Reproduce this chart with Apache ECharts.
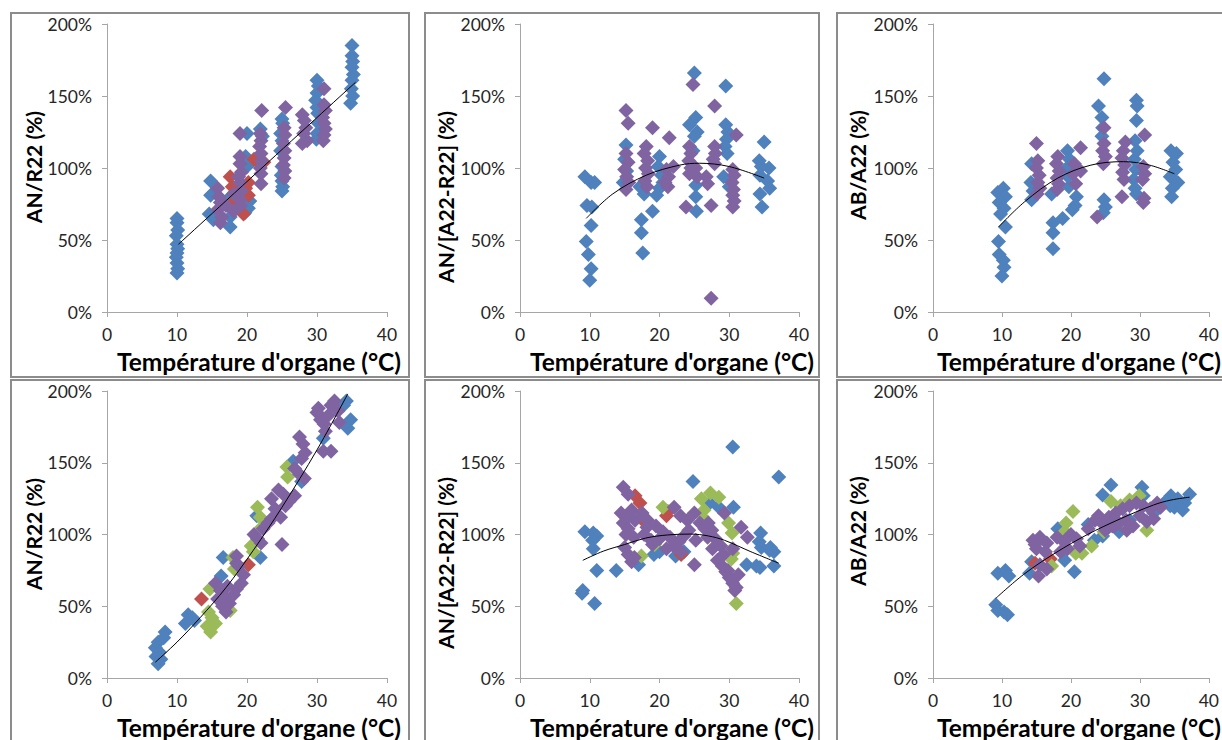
<!DOCTYPE html>
<html>
<head>
<meta charset="utf-8">
<script src="https://cdn.jsdelivr.net/npm/echarts@6/dist/echarts.min.js"></script>
<style>
html,body{margin:0;padding:0;background:#fff;}
#chart{width:1222px;height:740px;}
</style>
</head>
<body>
<div id="chart"></div>
<script>
// ---------- DATA (°C, %) ----------
const xTicks = [0, 10, 20, 30, 40];
const yTicks = [0, 50, 100, 150, 200];
const xTitle = "Température d'organe (°C)";
const yTitles = ["AN/R22 (%)", "AN/[A22-R22] (%)", "AB/A22 (%)", "AN/R22 (%)", "AN/[A22-R22] (%)", "AB/A22 (%)"];

// Panel 1: AN/R22 (top-left)
const p1Blue = [[10,65],[10,62],[10.1,57],[9.9,53],[10,47],[10.1,44],[10,41],[9.9,38],[10,34],[10.1,30],[10,27],
  [14.8,91],[14.8,81],[14.6,68],[15.2,64],[17.6,66],[17.6,59],[17.2,78],[18.2,83],
  [20,124],[19.8,108],[20,101],[20.4,77],[20.2,72],[19.7,69],
  [21.9,127],[22.2,122],
  [25,134],[25.1,131],[24.8,124],[25,119],[24.8,112],[25,101],[24.9,95],[25,91],[25.1,87],[25,84],
  [30,161],[30.2,157],[30,152],[29.8,147],[30,142],[30.1,138],[30.2,131],[30,124],[29.9,120],
  [35,185],[35,178],[35.1,174],[35,170],[35.2,165],[35,161],[34.9,155],[35.1,150],[34.8,145]];
const p1Red = [[17.6,94],[17.9,87],[18.1,77],[18.3,73],[19.5,68],[20.2,81],[20.2,90],[21,106],[21.8,103],[22.4,104],[19.8,86]];
const p1Purple = [[15.8,86],[16,80],[16.2,76],[15.8,71],[16.4,66],[16.2,62],[17,74],[18.1,82],[18.1,70],
  [19,124],[19,108],[19,103],[19.2,97],[18.8,94],[19,90],[19.2,84],[19,78],[19.1,74],
  [22.1,140],[21.9,124],[22,119],[21.8,115],[22,110],[22.1,105],[21.9,100],[22,96],[22,89],
  [25.5,142],[25.3,128],[25.4,123],[25.2,117],[25.4,112],[25.3,107],[25.2,102],[25.4,98],[25.3,93],
  [27.9,137],[28.2,133],[28.4,128],[28.1,124],[28.6,119],[27.9,117],
  [31,155],[31,144],[31.2,140],[30.8,135],[31,131],[31.2,127],[31,123],[30.9,119]];
const trend1 = [[10.2,47],[35.5,159.5]];

// Panel 2: AN/[A22-R22] (top-middle)
const p2Blue = [[9.3,94],[10.2,90],[10.7,90],[9.6,74],[10.3,73],[10.2,60],[9.5,49],[9.8,40],[10.2,30],[10,22],
  [15.2,116],[15,106],[15.3,98],[14.8,90],
  [17.4,64],[17.4,55],[17.6,41],[17.2,87],[17.8,82],
  [19,70],[20,108],[19.8,101],[20.3,95],[20.5,90],[20,86],[19.6,81],
  [25,166],[25.2,135],[24.3,130],[25.4,125],[25,122],[24.8,112],[25.2,88],[25.2,80],[25.3,70],
  [29.5,157],[29.5,130],[29.8,125],[29.6,120],[29.4,115],[29.7,110],[29.2,94],[30,87],
  [35,118],[34.3,105],[34.6,101],[35.7,100],[34.4,95],[35.5,91],[35.8,86],[34.4,82],[34.7,73]];
const p2Purple = [[24.8,158],[27.9,143],[15.2,140],[15.5,131],[19,128],[21.4,121],[31,123],
  [15.2,110],[15.5,104],[15,99],[15.3,94],[15.6,90],[15.2,85],
  [18.1,115],[17.8,110],[18.3,105],[18,100],[18.4,96],[17.9,91],[18.2,87],
  [21,99],[21.3,94],[20.8,90],[21.2,87],[22,101],
  [24.3,115],[24.5,110],[24.2,105],[24.5,100],[24.3,96],[25.2,100],[25.4,94],
  [27.9,115],[28,110],[27.7,106],[27.9,103],[26.7,94],[26.9,89],
  [30.5,99],[30.7,95],[30.4,90],[30.6,85],[30.5,81],[30.7,77],[30.5,73],
  [23.8,73],[27.4,74],[27.4,9.5]];
const trend2 = [[9.5,65],[13.3,82],[18.1,95],[22.9,102],[25.7,103.3],[30,101],[35,93]];

// Panel 3: AB/A22 (top-right)
const p3Blue = [[24.8,162],[29.5,147],[29.6,143],[29.5,133],[24,143],[24.5,135],[24.6,128],[24.5,122],
  [9.4,83],[10.2,86],[10.5,80],[9.6,76],[10.3,72],[9.8,68],[10.5,59],[9.5,49],[9.6,40],[10.2,36],[10.3,31],[10,25],
  [17.4,62],[17.4,55],[17.4,44],[18.8,65],[17.2,82],
  [19.5,112],[19.8,106],[19.4,100],[19.6,94],[19.7,87],[20.8,80],[20.6,74],[20.2,71],
  [24.8,78],[25,73],[24.7,69],
  [29.3,119],[29.6,112],[29.2,106],[29.4,99],[29.1,92],[29.3,86],[29.5,82],
  [34.5,112],[35.3,110],[34.8,104],[35.2,99],[34.4,94],[35.5,90],[34.7,86],[34.6,80],
  [14.3,103],[14.2,90],[14.5,84],[14.3,78]];
const p3Purple = [[15,117],[30.7,123],[21.4,114],[24.8,128],[27.9,118],
  [15.2,105],[15,100],[15.4,95],[15.2,90],[15.5,86],[15.1,82],
  [18.1,108],[17.9,103],[18.3,98],[18,93],[18.2,89],[18,85],
  [20.5,103],[20.3,96],[20.7,89],[21.4,98],
  [24.8,117],[24.6,112],[25,108],[24.7,103],
  [27.6,112],[27.4,107],[27.8,102],[27.5,97],[27.7,92],
  [27.4,80],[30.5,101],[30.7,96],[30.4,92],[30.6,79],[30.5,76],[23.8,66]];
const trend3 = [[9.5,59],[13.3,76.6],[18.1,93],[22.9,102],[27.6,104.4],[31.4,102],[35,96]];

// Panel 4: AN/R22 (bottom-left)
const p4Blue = [[8.3,32],[8.1,28],[7.3,25],[6.9,21],[7.5,18],[7.0,15],[7.7,13],[7.3,10],
  [11.6,44],[12.2,42],[11.2,38],[12.5,40],
  [16.6,84],[16.3,71],[21.9,84],[21.4,113],[26.6,151],[27.8,137],[30.9,167],
  [34.2,193],[34.8,180],[33.8,190],[34.4,174]];
const p4Red = [[13.5,55],[20.2,79]];
const p4Green = [[14.5,46],[15,42],[14.3,36],[15.5,38],[14.8,32],[17.6,47],[14.7,62],[18,84],[18.2,76],[20.9,88],
  [21.5,119],[21.9,112],[22.1,105],[25.7,147],[25.8,140],[20.6,92]];
const p4Purple = [[15.5,66],[16.2,61],[16.8,57],[17.5,52],[15.8,55],[17.2,64],[18.1,58],[16.5,50],[18.5,62],[17,46],
  [18.5,85],[18.8,78],[19.5,72],[19.2,66],[18.5,80],
  [21,100],[21.5,97],[22.3,104],[23,108],[22,94],[23.5,111],[25,93],
  [23.5,125],[24.5,131],[25.2,128],[26,123],[24,118],[25.5,120],[24.8,112],[26.8,127],
  [26.8,146],[27.5,142],[28.2,139],[27.5,168],[28,163],[28.3,157],[27.8,153],
  [30.9,158],[32,158],
  [30,185],[30.5,180],[31,177],[31.6,183],[32,190],[32.5,193],[33,186],[33.2,178],[31.2,172],[30.2,188]];
const trend4 = [[6.9,11],[10,25],[13.3,42],[17,63],[20.9,89],[25,119],[30,159],[34.4,198]];

// Panel 5: AN/[A22-R22] (bottom-middle)
const p5Blue = [[30.5,161],[37.1,140],[24.8,137],
  [9.3,102],[10.5,101],[11,99],[10.4,96],[10.5,90],[11,75],[9,61],[8.9,59],[10.7,52],[13.8,75],
  [27.2,122],[28.5,119],[30.6,119],
  [34.5,101],[34.3,95],[34.6,91],[35.9,91],[35.8,89],[36.4,88],[32.5,79],[33.9,78],[34.4,77],[36.4,78],
  [17,79],[19.2,86],[20,88],[23.5,88],[22.3,85]];
const p5Red = [[16.5,127],[17.2,122],[17.4,111],[21.2,116],[21,113],[23.1,86]];
const p5Green = [[20.5,119],[26,125],[27.3,129],[28.5,126],[26.4,117],[29.9,108],[30.4,101],[17.4,85],[31,52],
  [19.3,93],[30.5,87],[30.3,83],[26.2,112]];
const p5Purple = [[14.8,133],[15.5,128],[14.5,115],[15.2,112],[16,117],[14.8,108],[15.5,104],[16.5,110],[17.5,115],[18.2,105],[17.8,100],[16.3,98],[15.2,100],[18.8,96],
  [15,91],[15.5,86],[16,81],[16.4,84],
  [18.3,110],[19.5,106],[20.5,102],[21.5,98],[19,93],[20,97],[22,92],[21,90],[22.8,95],[23.1,88],
  [22.1,119],[23,113],[24,110],[25,115],[25.8,108],[26.5,104],[24.2,103],[23.5,99],[25.2,96],[26.9,98],[25,79],
  [27,108],[27.5,103],[28,97],[28.8,92],[29.2,86],[27.6,90],[28.3,82],[29,78],[29.5,74],[30,70],[30.5,66],[31,63],[30.8,61],[29.8,75],[31.3,72],
  [29.3,115],[31.7,105],[32.6,98],[30.5,90]];
const trend5 = [[9,82],[12,88.5],[15,93],[18,97.5],[21.2,99.7],[24.5,100.3],[27,99],[29.3,96],[33.1,88],[37.1,80]];

// Panel 6: AB/A22 (bottom-right)
const p6Blue = [[25.8,134.5],[24.6,127.5],[30.3,133],[30.5,127],
  [34.5,127],[35.5,125],[36.5,122],[37.2,128],[35,119],[36.2,117],[34.4,120],[33.5,122],
  [9.4,73],[10.5,75],[11,71],[9.1,51],[9.4,47],[10.8,44],[10.3,46],
  [14.3,81],[14,73],[20.5,74],[18.1,104],[19.1,82],[23.4,96],[24.6,99],[28.5,110],[32,115],[27,102],[22.5,107]];
const p6Red = [[14.8,80],[17,83]];
const p6Green = [[20.3,116],[19.3,108],[19.1,102],[17.2,78],[20.7,87],[21.6,87],[25.8,123],[27.2,120],[29.9,127],[31,103],[24.8,102],[23,92],[28.5,124]];
const p6Purple = [[14.5,96],[15.5,98],[16.5,94],[15,90],[16.3,88],[14.8,93],[15.3,71],[15.5,79],[16.5,76],
  [18,98],[19,95],[20,100],[20.8,97],[19.5,90],[21.3,92],[18.5,88],
  [22.5,104],[23.5,110],[24.5,108],[25.5,112],[26.5,115],[27.5,118],[28.5,120],[29.5,122],[30.5,120],[31.5,118],[32.5,122],
  [24,113],[26,106],[28,110],[30,113],[32,111],[25,103],[27,108],[29,106],[31,109],[33,119],[28.1,103],[26.3,106]];
const trend6 = [[9.1,55.5],[13.1,72],[17.7,87],[22.4,100],[27.2,111],[32,120.6],[34.5,124],[37.2,126]];

// ---------- STYLE / LAYOUT ----------
const COL = {blue:'#4F81BD', red:'#C0504D', green:'#9BBB59', purple:'#8064A2'};
const FONT = 'Lato, "Liberation Sans", sans-serif';
const AXIS_COL = '#a6a6a6';

const panels = [
  {grid:{left:107, top:24, width:280, height:288}, sets:[[p1Blue,'blue'],[p1Red,'red'],[p1Purple,'purple']], trend:trend1, yt:[33.5,167], xt:[259,361], box:[11,13,398,364]},
  {grid:{left:520, top:24, width:279, height:288}, sets:[[p2Blue,'blue'],[p2Purple,'purple']], trend:trend2, yt:[445,197], xt:[672,361], box:[425,13,394,364]},
  {grid:{left:933, top:24, width:280, height:288}, sets:[[p3Blue,'blue'],[p3Purple,'purple']], trend:trend3, yt:[857,165], xt:[1079,361], box:[837,13,400,364]},
  {grid:{left:107, top:391, width:280, height:287}, sets:[[p4Blue,'blue'],[p4Red,'red'],[p4Green,'green'],[p4Purple,'purple']], trend:trend4, yt:[33.5,534], xt:[259,727], box:[11,380,398,380]},
  {grid:{left:520, top:391, width:279, height:287}, sets:[[p5Blue,'blue'],[p5Red,'red'],[p5Green,'green'],[p5Purple,'purple']], trend:trend5, yt:[445,563], xt:[672,727], box:[425,380,394,380]},
  {grid:{left:933, top:391, width:280, height:287}, sets:[[p6Blue,'blue'],[p6Red,'red'],[p6Green,'green'],[p6Purple,'purple']], trend:trend6, yt:[857,531], xt:[1079,727], box:[837,380,400,380]}
];

const grid = [], xAxis = [], yAxis = [], series = [], graphic = [];
panels.forEach((p, i) => {
  grid.push(Object.assign({containLabel:false}, p.grid));
  xAxis.push({
    gridIndex:i, type:'value', min:xTicks[0], max:xTicks[xTicks.length-1], interval:xTicks[1]-xTicks[0],
    axisLine:{show:true, onZero:false, lineStyle:{color:AXIS_COL, width:1}},
    axisTick:{show:true, length:5, lineStyle:{color:AXIS_COL}},
    splitLine:{show:false},
    axisLabel:{fontSize:17.5, color:'#262626', margin:13, fontFamily:FONT}
  });
  yAxis.push({
    gridIndex:i, type:'value', min:yTicks[0], max:yTicks[yTicks.length-1], interval:yTicks[1]-yTicks[0],
    axisLine:{show:true, onZero:false, lineStyle:{color:AXIS_COL, width:1}},
    axisTick:{show:true, length:5, lineStyle:{color:AXIS_COL}},
    splitLine:{show:false},
    axisLabel:{fontSize:17.5, color:'#262626', margin:15, fontFamily:FONT, formatter:'{value}%'}
  });
  p.sets.forEach(([data, c]) => {
    series.push({type:'scatter', xAxisIndex:i, yAxisIndex:i, data:data, symbol:'diamond', symbolSize:15,
      itemStyle:{color:COL[c], opacity:1}, emphasis:{disabled:true}, silent:true, z:2});
  });
  series.push({type:'line', xAxisIndex:i, yAxisIndex:i, data:p.trend, smooth:0.35, symbol:'none',
    lineStyle:{color:'#000', width:1}, silent:true, z:5});
  graphic.push({type:'rect', shape:{x:p.box[0], y:p.box[1], width:p.box[2], height:p.box[3]},
    style:{fill:'none', stroke:'#8c8c8c', lineWidth:2}, silent:true, z:0});
  graphic.push({type:'text', x:p.yt[0], y:p.yt[1], rotation:Math.PI/2,
    style:{text:yTitles[i], fontSize:21, fontWeight:'bold', fontFamily:FONT, fill:'#000', textAlign:'center', textVerticalAlign:'middle'}, z:10});
  graphic.push({type:'text', x:p.xt[0], y:p.xt[1],
    style:{text:xTitle, fontSize:24.5, fontWeight:'bold', fontFamily:FONT, fill:'#000', textAlign:'center', textVerticalAlign:'middle'}, z:10});
});

const chart = echarts.init(document.getElementById('chart'), null, {renderer:'svg'});
chart.setOption({animation:false, backgroundColor:'#fff', grid, xAxis, yAxis, series, graphic});
</script>
</body>
</html>
